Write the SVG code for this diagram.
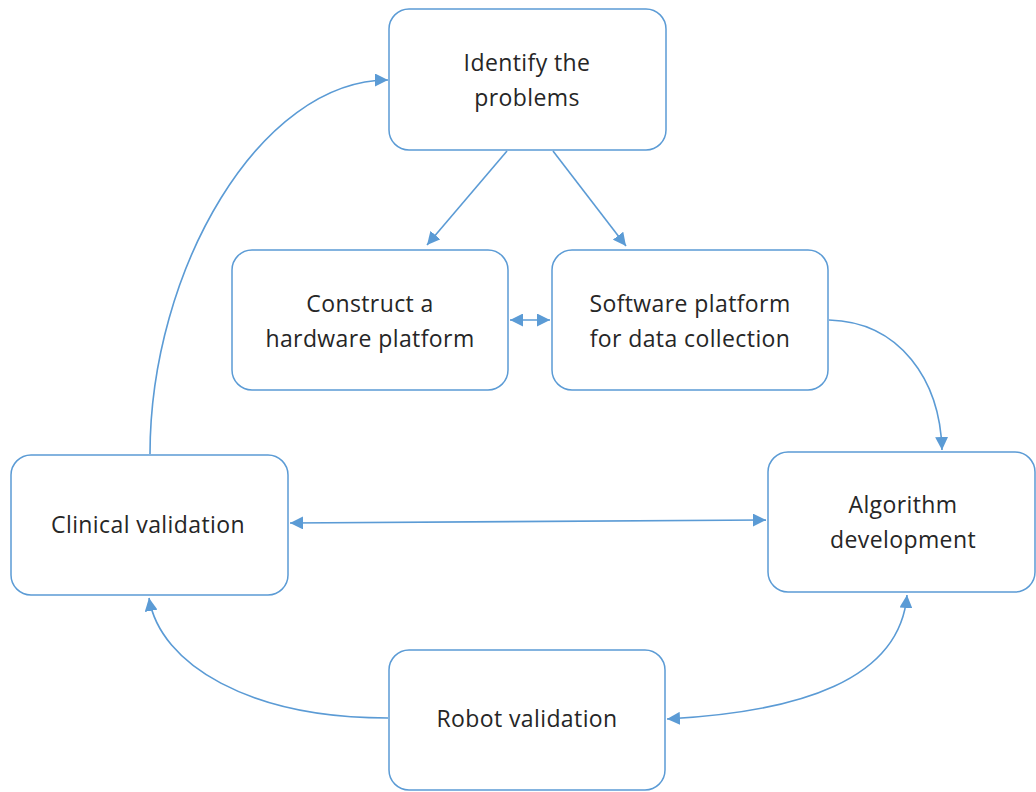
<svg xmlns="http://www.w3.org/2000/svg" width="1036" height="792" viewBox="0 0 1036 792">
<style>
.box{fill:#fff;stroke:#5B9BD5;stroke-width:1.5}
.t{font-family:"Open Sans","Liberation Sans",sans-serif;font-size:23px;letter-spacing:0.4px;fill:#262626;text-anchor:middle}
.c{fill:none;stroke:#5B9BD5;stroke-width:1.6}
</style>
<defs>
<marker id="ah" viewBox="0 0 10 10" refX="10" refY="5" markerWidth="13" markerHeight="13" markerUnits="userSpaceOnUse" orient="auto-start-reverse">
<path d="M0,0 L10,5 L0,10 z" fill="#5B9BD5"/>
</marker>
</defs>
<rect width="1036" height="792" fill="#fff"/>
<g id="connectors">
<path class="c" d="M150,454 C150,270 260,80 388,80" marker-end="url(#ah)"/>
<path class="c" d="M507,151 L427,245" marker-end="url(#ah)"/>
<path class="c" d="M553,151 L626,246" marker-end="url(#ah)"/>
<path class="c" d="M510,320 L550,320" marker-start="url(#ah)" marker-end="url(#ah)"/>
<path class="c" d="M829,320 C900,322 940,380 942,450" marker-end="url(#ah)"/>
<path class="c" d="M290,523 L766,520" marker-start="url(#ah)" marker-end="url(#ah)"/>
<path class="c" d="M388,718 C250,718 160,665 149,598" marker-end="url(#ah)"/>
<path class="c" d="M667,719 C800,712 900,680 907,595" marker-start="url(#ah)" marker-end="url(#ah)"/>
</g>
<g id="identify"><rect class="box" x="389" y="9" width="277" height="141" rx="20"/>
<text class="t" x="527" y="71">Identify the</text><text class="t" x="527" y="106">problems</text></g>
<g id="construct"><rect class="box" x="232" y="250" width="276" height="140" rx="20"/>
<text class="t" x="370" y="312">Construct a</text><text class="t" x="370" y="347">hardware platform</text></g>
<g id="software"><rect class="box" x="552" y="250" width="276" height="140" rx="20"/>
<text class="t" x="690" y="312">Software platform</text><text class="t" x="690" y="347">for data collection</text></g>
<g id="clinical"><rect class="box" x="11" y="455" width="277" height="140" rx="20"/>
<text class="t" x="148" y="533">Clinical validation</text></g>
<g id="algorithm"><rect class="box" x="768" y="452" width="267" height="140" rx="20"/>
<text class="t" x="903" y="513">Algorithm</text><text class="t" x="903" y="548">development</text></g>
<g id="robot"><rect class="box" x="389" y="650" width="276" height="140" rx="20"/>
<text class="t" x="527" y="727">Robot validation</text></g>
</svg>
